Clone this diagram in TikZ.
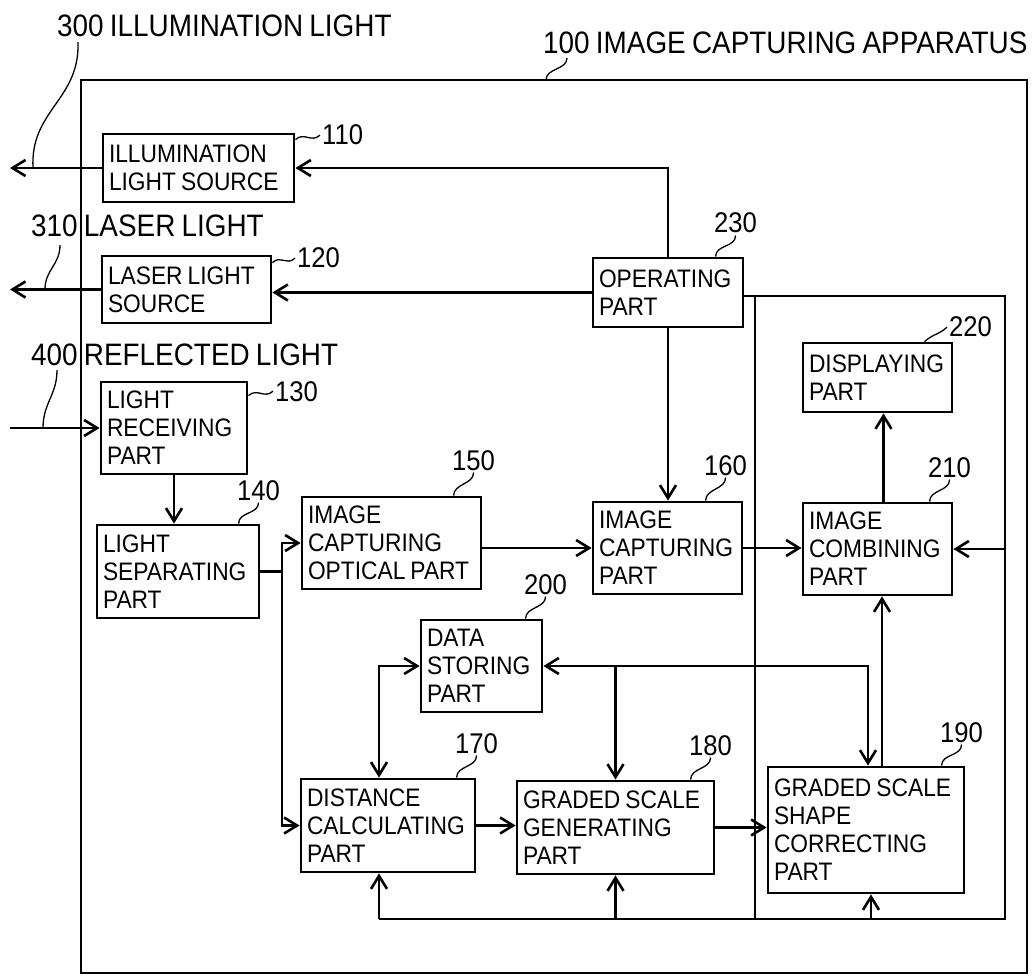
\documentclass[tikz,border=0pt]{standalone}
\usepackage{fontspec}
\setmainfont{Liberation Sans}[FakeStretch=0.9, WordSpace=0.8]
\usetikzlibrary{arrows.meta,calc}

\tikzset{
  part/.style={draw, line width=2.8pt, align=flush left, inner xsep=6pt, inner ysep=0pt,
    font=\fontsize{25.3}{28}\selectfont},
  link/.style={line width=2.6pt},
  lead/.style={line width=1.3pt},
  tag/.style={inner sep=2pt, anchor=base west, font=\fontsize{28.5}{30}\selectfont},
  caption/.style={inner sep=0pt, anchor=base west, font=\fontsize{31}{32}\selectfont}
}

\begin{document}
\begin{tikzpicture}[x=1pt,y=-1pt,>={Straight Barb[length=13pt,width=16pt]}]
\useasboundingbox (0,0) rectangle (1036,976);
% apparatus frame
\draw[line width=2.6pt] (81,80) rectangle (1027,973);

% parts
\node[part, text width=179pt, minimum height=68pt] (ils) at (198.5,168) {ILLUMINATION\\LIGHT SOURCE};
\node[part, text width=157pt, minimum height=67pt] (lls) at (186.5,289.5) {LASER LIGHT\\SOURCE};
\node[part, text width=138pt, minimum height=69pt] (opr) at (668,292.5) {OPERATING\\PART};
\node[part, text width=134pt, minimum height=92pt] (lrp) at (174,428) {LIGHT\\RECEIVING\\PART};
\node[part, text width=150pt, minimum height=93pt] (lsp) at (178,571.5) {LIGHT\\SEPARATING\\PART};
\node[part, text width=167pt, minimum height=92pt] (icop) at (391.5,543) {IMAGE\\CAPTURING\\OPTICAL PART};
\node[part, text width=137pt, minimum height=92pt] (icp) at (667.5,548) {IMAGE\\CAPTURING\\PART};
\node[part, text width=137pt, minimum height=69pt] (dsp) at (877.5,377.5) {DISPLAYING\\PART};
\node[part, text width=137pt, minimum height=92pt] (icmb) at (877.5,549) {IMAGE\\COMBINING\\PART};
\node[part, text width=109pt, minimum height=92pt] (dstp) at (481.5,666) {DATA\\STORING\\PART};
\node[part, text width=162pt, minimum height=93pt] (dcp) at (388,825.5) {DISTANCE\\CALCULATING\\PART};
\node[part, text width=185pt, minimum height=93pt] (gsg) at (615.5,827.5) {GRADED SCALE\\GENERATING\\PART};
\node[part, text width=184pt, minimum height=126pt] (gsc) at (866,830) {GRADED SCALE\\SHAPE\\CORRECTING\\PART};

% reference numerals
\node[tag] (n110) at (320,145) {110};
\node[tag] (n120) at (295,268) {120};
\node[tag] (n130) at (273,401) {130};
\node[tag] (n140) at (235,500) {140};
\node[tag] (n150) at (450,470) {150};
\node[tag] (n160) at (702,475) {160};
\node[tag] (n170) at (453,753) {170};
\node[tag] (n180) at (687,755) {180};
\node[tag] (n190) at (938,742) {190};
\node[tag] (n200) at (522,594) {200};
\node[tag] (n210) at (926,477) {210};
\node[tag] (n220) at (947,337) {220};
\node[tag] (n230) at (712,233) {230};

\node[caption] (c300) at (57,37) {300 ILLUMINATION LIGHT};
\node[caption] (c310) at (31,237) {310 LASER LIGHT};
\node[caption] (c400) at (31,365) {400 REFLECTED LIGHT};
\node[caption] (c100) at (543,54) {100 IMAGE CAPTURING APPARATUS};

% leaders
\foreach \b/\n in {lsp/140, icop/150, icp/160, dcp/170, gsg/180, gsc/190, dstp/200, icmb/210, opr/230}
  \draw[lead] ($(\b.north -| n\n.south)+(-20,0)$) .. controls +(0,-12) and +(0,12) .. (n\n.south);
\foreach \b/\n/\d in {ils/110/7, lls/120/8, lrp/130/15}
  \draw[lead] ($(\b.north east)+(0,\d)$) .. controls +(9,-8) and +(-9,8) .. (n\n.west);
\draw[lead] ($(dsp.north)+(47,0)$) .. controls +(9,-8) and +(-9,8) .. (n220.west);
\draw[lead] ($(c300.base west)+(21,5)$) .. controls +(2,58) and +(-3,-58) .. (ils.west -| 33,0);
\draw[lead] ($(c310.base west)+(29,8)$) .. controls +(0,20) and +(0,-20) .. (lls.west -| 45,0);
\draw[lead] ($(c400.base west)+(26,5)$) .. controls +(0,25) and +(0,-25) .. (lrp.west -| 43,0);
\draw[lead] ($(c100.base west)+(24,4)$) .. controls +(0,12) and +(0,-12) .. (546,80);

% light paths
\coordinate (edge) at (10,0);
\draw[link,->] (ils.west) -- (ils.west -| edge);
\draw[link,->] (lls.west) -- (lls.west -| edge);
\draw[link,->] (lrp.west -| edge) -- (lrp.west);
\draw[link,->] (lrp.south) -- (lrp.south |- lsp.north);
\coordinate (split) at (282,0);
\draw[link] (lsp.east) -- (lsp.east -| split);
\draw[link,->] (lsp.east -| split) |- (icop.west);
\draw[link,->] (lsp.east -| split) |- (dcp.west);
\draw[link,->] (icop.east |- icp.west) -- (icp.west);

% operating part
\draw[link,->] (opr.north) |- (ils.east);
\draw[link,->] (opr.west) -- (opr.west -| lls.east);
\draw[link,->] (opr.south) -- (opr.south |- icp.north);

% image path
\draw[link,->] (icp.east) -- (icp.east -| icmb.west);
\draw[link,->] ([xshift=6pt]icmb.north) -- ([xshift=6pt]icmb.north |- dsp.south);
\draw[link,->] ([xshift=16pt]gsc.north) -- ([xshift=16pt]gsc.north |- icmb.south);

% data paths
\draw[link,<->] ([xshift=-9pt]dcp.north) |- (dstp.west);
\draw[link,<->] (dstp.east) -| ([xshift=2pt]gsc.north);
\draw[link,->] (dstp.east -| gsg.north) -- (gsg.north);
\draw[link,->] (dcp.east) -- (dcp.east -| gsg.west);
\draw[link,->] (gsg.east) -- (gsg.east -| gsc.west);

% control bus
\coordinate (busNE) at (1005,296);
\coordinate (busSE) at (1005,919);
\coordinate (busSW) at (379,919);
\coordinate (busTap) at (755,296);
\draw[link] (opr.east |- busNE) -- (busNE) -- (busSE) -- (busSW);
\draw[link] (busTap) -- (busTap |- busSE);
\draw[link,->] (busNE |- icmb.east) -- (icmb.east);
\draw[link,->] (busSW) -- (busSW |- dcp.south);
\draw[link,->] (gsg.south |- busSW) -- (gsg.south);
\draw[link,->] ([xshift=5pt]gsc.south |- busSW) -- ([xshift=5pt]gsc.south);
\end{tikzpicture}
\end{document}
